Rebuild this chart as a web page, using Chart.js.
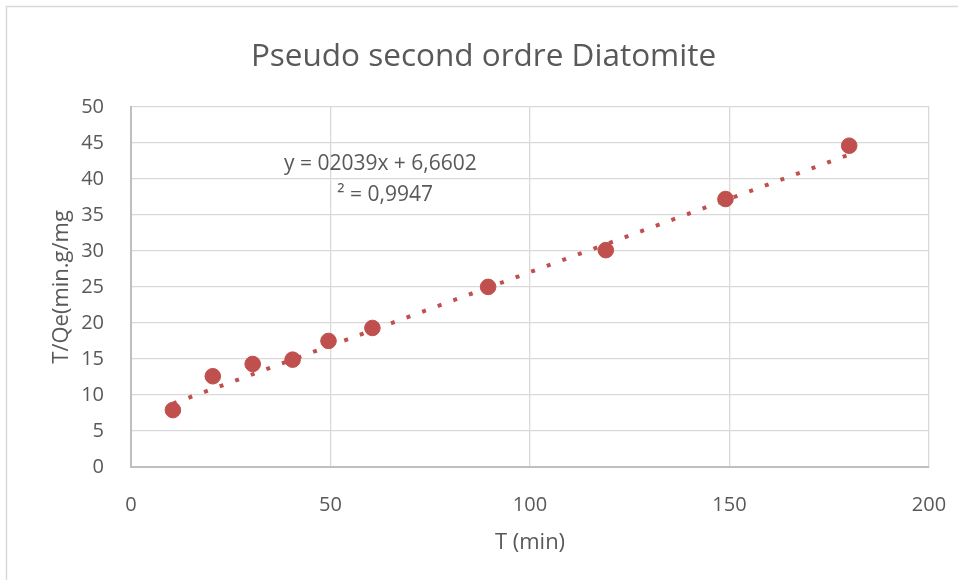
<!DOCTYPE html>
<html>
<head>
<meta charset="utf-8">
<script src="https://cdn.jsdelivr.net/npm/chart.js@4.4.1/dist/chart.umd.min.js"></script>
<style>
    body { margin: 0; background: #fff; }
    #psoChart { display: block; }
</style>
</head>
<body>
<canvas id="psoChart" width="958" height="580"></canvas>
<script>
// T (min) and T/Qe for the diatomite pseudo second order fit
const temps     = [10.5, 20.5, 30.5, 40.5, 49.5, 60.5, 89.5, 119, 149, 180];
const tSurQe    = [7.9, 12.6, 14.3, 14.9, 17.5, 19.3, 25.0, 30.1, 37.2, 44.6];

// linear trend shown on the chart
const pente     = 0.2039;
const ordonnee  = 6.6602;
const r2        = 0.9947;
const trendX    = [temps[0], temps[temps.length-1]];

const xTicks    = [0, 50, 100, 150, 200];
const yTicks    = [0, 5, 10, 15, 20, 25, 30, 35, 40, 45, 50];

const rouge     = '#C0504D';
const gris      = '#595959';
const police    = "'Open Sans', sans-serif";

// equation label, placed in data units
const eqLignes  = [
    { x: 62.5, y: 42.1, text: 'y = 02039x + 6,6602' },
    { x: 63.7, y: 37.8, text: '² = ' + r2.toString().replace('.', ',') }
];

const trendData = trendX.map(x => ({ x: x, y: pente*x + ordonnee }));
const points    = temps.map((t, i) => ({ x: t, y: tSurQe[i] }));

const cadre = {
    id: 'cadre',
    beforeDraw(chart) {
        const ctx = chart.ctx;
        ctx.save();
        ctx.fillStyle = '#fff';
        ctx.fillRect(0, 0, chart.width, chart.height);
        ctx.strokeStyle = '#D9D9D9';
        ctx.lineWidth = 1.5;
        ctx.strokeRect(6.5, 6.5, chart.width + 10, chart.height + 10);
        ctx.restore();
    },
    afterDatasetsDraw(chart) {
        const ctx = chart.ctx;
        const sx = chart.scales.x, sy = chart.scales.y;
        ctx.save();
        ctx.fillStyle = gris;
        ctx.font = '21px ' + police;
        ctx.textAlign = 'center';
        ctx.textBaseline = 'middle';
        eqLignes.forEach(l => {
            ctx.fillText(l.text, sx.getPixelForValue(l.x), sy.getPixelForValue(l.y));
        });
        ctx.restore();
    }
};

new Chart(document.getElementById('psoChart').getContext('2d'), {
    type: 'scatter',
    data: {
        datasets: [{
            type: 'line',
            label: 'Linéaire',
            data: trendData,
            borderColor: rouge,
            borderWidth: 4,
            borderDash: [4, 12.6],
            borderCapStyle: 'butt',
            pointRadius: 0,
            fill: false,
            order: 0
        }, {
            label: 'T/Qe',
            data: points,
            backgroundColor: rouge,
            borderColor: rouge,
            pointRadius: 7.8,
            pointHoverRadius: 7.8,
            order: 1
        }]
    },
    plugins: [cadre],
    options: {
        responsive: false,
        animation: false,
        layout: {
            padding: { left: 38, right: 29, top: 0, bottom: 0 }
        },
        plugins: {
            legend: { display: false },
            tooltip: { enabled: false },
            title: {
                display: true,
                text: 'Pseudo second ordre Diatomite',
                color: gris,
                font: { family: police, size: 31.5, weight: 'normal', lineHeight: 1.2 },
                padding: { top: 38, bottom: 31 }
            }
        },
        scales: {
            x: {
                type: 'linear',
                min: 0,
                max: 200,
                afterBuildTicks: s => { s.ticks = xTicks.map(v => ({ value: v })); },
                afterFit: s => {
                    s.height = 113;
                    // labels may hang past the plot edges, keep the plot box fixed
                    s.paddingLeft = 0;
                    s.paddingRight = 0;
                },
                grid: { color: '#D9D9D9', lineWidth: 1.3, drawTicks: false },
                border: { color: '#BFBFBF', width: 2 },
                ticks: { color: gris, padding: 26, font: { family: police, size: 20 } },
                title: {
                    display: true,
                    text: 'T (min)',
                    color: gris,
                    font: { family: police, size: 22, lineHeight: 1.2 },
                    padding: { top: 0, bottom: 24 }
                }
            },
            y: {
                type: 'linear',
                min: 0,
                max: 50,
                afterBuildTicks: s => { s.ticks = yTicks.map(v => ({ value: v })); },
                afterFit: s => {
                    s.width = 93;
                    s.paddingTop = 0;
                    s.paddingBottom = 0;
                },
                grid: { color: '#D9D9D9', lineWidth: 1.3, drawTicks: false },
                border: { color: '#BFBFBF', width: 2 },
                ticks: { color: gris, padding: 27, font: { family: police, size: 20 } },
                title: {
                    display: true,
                    text: 'T/Qe(min.g/mg',
                    color: gris,
                    font: { family: police, size: 22, lineHeight: 1.2 },
                    padding: { top: 11, bottom: 0 }
                }
            }
        }
    }
});
</script>
</body>
</html>
